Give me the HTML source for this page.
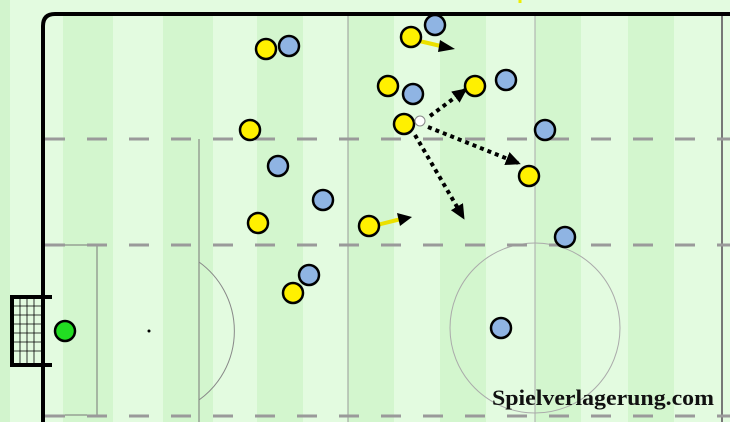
<!DOCTYPE html>
<html><head><style>
html,body{margin:0;padding:0;background:#dff9dc;}
svg{display:block}
</style></head><body>
<svg width="730" height="422" viewBox="0 0 730 422" xmlns="http://www.w3.org/2000/svg">
<defs>
<marker id="ah2" markerWidth="16" markerHeight="14" refX="12" refY="7" orient="auto" markerUnits="userSpaceOnUse">
<path d="M0,0 L15,7 L0,14 Z" fill="#000"/>
</marker>
</defs>
<rect width="730" height="422" fill="#e3fbe0"/>
<rect x="0" y="0" width="10" height="422" fill="#d2f4cd"/>
<g fill="#d3f6ce">
<rect x="63" y="14" width="50" height="408"/>
<rect x="163" y="14" width="50" height="408"/>
<rect x="257" y="14" width="46" height="408"/>
<rect x="348" y="14" width="46" height="408"/>
<rect x="440" y="14" width="46" height="408"/>
<rect x="535" y="14" width="46" height="408"/>
<rect x="628" y="14" width="46" height="408"/>
</g>
<g stroke="#888" stroke-width="1" fill="none">
<line x1="348" y1="14" x2="348" y2="422" stroke="#999"/>
<line x1="535" y1="14" x2="535" y2="422" stroke="#aaa"/>
<line x1="722" y1="14" x2="722" y2="422" stroke="#777" stroke-width="2"/>
<line x1="199" y1="139" x2="199" y2="422" stroke="#777"/>
<polyline points="43,245 97,245 97,415 43,415" stroke="#777"/>
<path d="M199,262 A85,85 0 0 1 199,400" stroke="#888"/>
<circle cx="535" cy="328" r="85" stroke="#aaa"/>
</g>
<g stroke="#9a9a9a" stroke-width="3" stroke-dasharray="20,22">
<line x1="45" y1="139" x2="730" y2="139"/>
<line x1="45" y1="245" x2="730" y2="245"/>
<line x1="45" y1="416" x2="730" y2="416"/>
</g>
<circle cx="149" cy="331" r="1.5" fill="#000"/>
<path d="M43,422 L43,26 Q43,14 55,14 L730,14" stroke="#000" stroke-width="4" fill="none"/>
<g stroke="#000" fill="none">
<rect x="12" y="297" width="31" height="68" stroke-width="4"/>
<line x1="43" y1="297" x2="52" y2="297" stroke-width="4"/>
<line x1="43" y1="365" x2="52" y2="365" stroke-width="4"/>
<g stroke-width="0.8">
<line x1="20" y1="297" x2="20" y2="365"/><line x1="27" y1="297" x2="27" y2="365"/><line x1="34" y1="297" x2="34" y2="365"/>
<line x1="12" y1="306" x2="43" y2="306"/><line x1="12" y1="315" x2="43" y2="315"/><line x1="12" y1="324" x2="43" y2="324"/><line x1="12" y1="333" x2="43" y2="333"/><line x1="12" y1="342" x2="43" y2="342"/><line x1="12" y1="351" x2="43" y2="351"/>
</g>
</g>
<circle cx="65" cy="331" r="10" fill="#22dd22" stroke="#000" stroke-width="2.5"/>
<line x1="520" y1="0" x2="520" y2="3" stroke="#ee0" stroke-width="3"/>
<g stroke="#ebe000" stroke-width="4">
<line x1="415" y1="40" x2="445" y2="47"/>
<line x1="373" y1="226" x2="401" y2="219"/>
</g>
<path d="M440,40 L455,49 L438,52 Z" fill="#000"/>
<path d="M397,213 L412,217 L400,226 Z" fill="#000"/>
<g stroke="#000" stroke-width="4" stroke-dasharray="4,4" fill="none">
<line x1="430" y1="116" x2="465" y2="90" marker-end="url(#ah2)"/>
<line x1="428" y1="127" x2="518" y2="163" marker-end="url(#ah2)"/>
<line x1="415" y1="135" x2="463" y2="217" marker-end="url(#ah2)"/>
</g>
<g stroke="#000" stroke-width="2.5">
<g fill="#8fb4e3">
<circle cx="289" cy="46" r="10"/><circle cx="278" cy="166" r="10"/><circle cx="323" cy="200" r="10"/><circle cx="309" cy="275" r="10"/>
<circle cx="435" cy="25" r="10"/><circle cx="413" cy="94" r="10"/><circle cx="506" cy="80" r="10"/><circle cx="545" cy="130" r="10"/>
<circle cx="565" cy="237" r="10"/><circle cx="501" cy="328" r="10"/>
</g>
<g fill="#fff000">
<circle cx="266" cy="49" r="10"/><circle cx="250" cy="130" r="10"/><circle cx="258" cy="223" r="10"/><circle cx="293" cy="293" r="10"/>
<circle cx="369" cy="226" r="10"/><circle cx="411" cy="37" r="10"/><circle cx="388" cy="86" r="10"/><circle cx="404" cy="124" r="10"/>
<circle cx="475" cy="86" r="10"/><circle cx="529" cy="176" r="10"/>
</g>
</g>
<circle cx="420" cy="121" r="5" fill="#fff" stroke="#888" stroke-width="1"/>
<text x="492" y="405" font-family="Liberation Serif, serif" font-weight="bold" font-size="22" textLength="222" lengthAdjust="spacingAndGlyphs" fill="#111">Spielverlagerung.com</text>
</svg>
</body></html>
